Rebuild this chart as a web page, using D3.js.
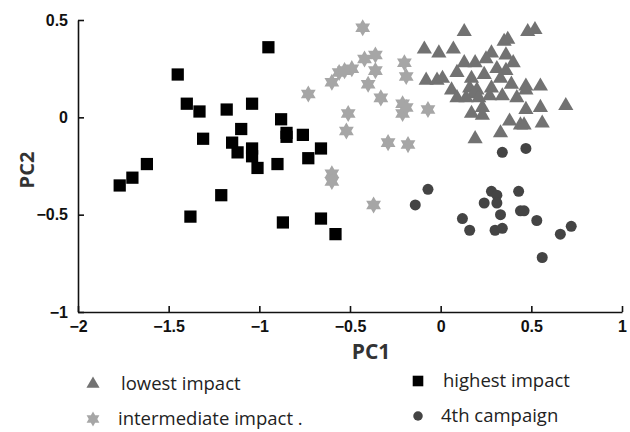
<!DOCTYPE html>
<html>
<head>
<meta charset="utf-8">
<script src="https://cdn.jsdelivr.net/npm/d3@7"></script>
<style>
  body { margin: 0; background: #fff; }
  svg { display: block; }
</style>
</head>
<body>
<div id="chart"></div>
<script>
// PCA scores
const lowestImpact = [
  [0.13, 0.44], [-0.09, 0.35], [-0.01, 0.33], [0.07, 0.35], [0.48, 0.44], [0.52, 0.45],
  [0.35, 0.39], [0.37, 0.40], [0.28, 0.33], [0.25, 0.30], [0.36, 0.32], [0.40, 0.28],
  [0.13, 0.28], [0.19, 0.28], [0.09, 0.23], [0.31, 0.25], [0.36, 0.24], [0.24, 0.22],
  [-0.08, 0.19], [-0.02, 0.19], [0.01, 0.20], [0.17, 0.20], [0.33, 0.20], [0.39, 0.17],
  [0.47, 0.16], [0.55, 0.16], [0.16, 0.15], [0.20, 0.14], [0.18, 0.12], [0.06, 0.14],
  [0.09, 0.10], [0.28, 0.15], [0.27, 0.11], [0.34, 0.11], [0.47, 0.14], [0.42, 0.10],
  [0.21, 0.10], [0.14, 0.10], [0.23, 0.05], [0.17, 0.02], [0.23, 0.01], [0.47, 0.04],
  [0.55, 0.05], [0.69, 0.06], [0.38, -0.02], [0.44, -0.04], [0.46, -0.04], [0.56, -0.03],
  [0.33, -0.08], [0.19, -0.11]
];
const intermediateImpact = [
  [-0.43, 0.46], [-0.42, 0.30], [-0.36, 0.32], [-0.49, 0.25], [-0.56, 0.23], [-0.60, 0.18],
  [-0.36, 0.24], [-0.40, 0.17], [-0.20, 0.28], [-0.19, 0.21], [-0.73, 0.12], [-0.33, 0.10],
  [-0.21, 0.07], [-0.21, 0.02], [-0.19, 0.05], [-0.07, 0.04], [-0.51, 0.02], [-0.52, -0.07],
  [-0.29, -0.13], [-0.18, -0.14], [-0.60, -0.29], [-0.60, -0.33], [-0.37, -0.45], [-0.53, 0.24]
];
const highestImpact = [
  [-1.77, -0.35], [-1.70, -0.31], [-1.62, -0.24], [-1.45, 0.22], [-1.40, 0.07], [-1.33, 0.03],
  [-1.31, -0.11], [-1.38, -0.51], [-0.95, 0.36], [-1.18, 0.04], [-1.04, 0.07], [-1.10, -0.06],
  [-1.15, -0.13], [-1.12, -0.18], [-1.04, -0.16], [-1.04, -0.20], [-1.01, -0.26], [-0.88, -0.01],
  [-0.85, -0.08], [-0.85, -0.10], [-0.76, -0.09], [-0.66, -0.16], [-0.73, -0.21], [-0.90, -0.24],
  [-1.21, -0.40], [-0.87, -0.54], [-0.66, -0.52], [-0.58, -0.60]
];
const fourthCampaign = [
  [0.34, -0.18], [0.47, -0.16], [-0.07, -0.37], [-0.14, -0.45], [0.28, -0.38], [0.31, -0.40],
  [0.24, -0.44], [0.31, -0.44], [0.33, -0.50], [0.43, -0.38], [0.44, -0.48], [0.46, -0.48],
  [0.12, -0.52], [0.16, -0.58], [0.30, -0.58], [0.34, -0.57], [0.53, -0.53], [0.66, -0.60],
  [0.72, -0.56], [0.56, -0.72]
];
const xTicks = [-2, -1.5, -1, -0.5, 0, 0.5, 1];
const yTicks = [-1, -0.5, 0, 0.5];
const legendLabels = ['lowest impact', 'highest impact', 'intermediate impact .', '4th campaign'];

const width = 630, height = 432;
const margin = { left: 78, right: 8, top: 20, bottom: 120 };

const svg = d3.select('#chart').append('svg')
  .attr('width', width)
  .attr('height', height);

const x = d3.scaleLinear().domain([-2, 1]).range([margin.left, width - margin.right]);
const y = d3.scaleLinear().domain([-1, 0.5]).range([height - margin.bottom, margin.top]);

// six-pointed star (two overlapping triangles)
const hexagram = {
  draw(ctx, size) {
    const r = Math.sqrt(size / 1.3);
    const ri = r / Math.sqrt(3);
    for (let i = 0; i < 12; i++) {
      const a = -Math.PI / 2 + i * Math.PI / 6;
      const rr = i % 2 === 0 ? r : ri;
      const px = rr * Math.cos(a), py = rr * Math.sin(a);
      if (i === 0) ctx.moveTo(px, py); else ctx.lineTo(px, py);
    }
    ctx.closePath();
  }
};

const series = [
  { data: lowestImpact, type: d3.symbolTriangle, size: 100, fill: '#727272' },
  { data: intermediateImpact, type: hexagram, size: 95, fill: '#a6a6a6' },
  { data: highestImpact, type: d3.symbolSquare, size: 150, fill: '#000000' },
  { data: fourthCampaign, type: d3.symbolCircle, size: 95, fill: '#444444' }
];

// axes
const xAxis = svg.append('g')
  .attr('transform', `translate(0,${y(-1)})`)
  .call(d3.axisBottom(x).tickValues(xTicks).tickSizeInner(-6).tickSizeOuter(0).tickFormat(d3.format('')));
const yAxis = svg.append('g')
  .attr('transform', `translate(${x(-2)},0)`)
  .call(d3.axisLeft(y).tickValues(yTicks).tickSizeInner(-6).tickSizeOuter(0).tickFormat(d3.format('')));

[xAxis, yAxis].forEach(g => {
  g.select('.domain').attr('stroke', '#111').attr('stroke-width', 1.6);
  g.selectAll('.tick line').attr('stroke', '#111').attr('stroke-width', 1.6);
  g.selectAll('.tick text')
    .attr('fill', '#111')
    .style('font-family', 'Liberation Sans, Arial, sans-serif')
    .style('font-size', '16px')
    .style('font-weight', 'bold');
});
xAxis.selectAll('.tick text').attr('y', 9).attr('dy', '0.71em');
yAxis.selectAll('.tick text').attr('x', -10);

// axis titles
svg.append('text')
  .attr('x', x(-0.5) + 21).attr('y', 359)
  .attr('text-anchor', 'middle')
  .style('font-family', 'Open Sans, sans-serif')
  .style('font-size', '21px')
  .style('font-weight', 'bold')
  .attr('fill', '#333')
  .text('PC1');
svg.append('text')
  .attr('transform', `translate(34,${y(-0.25) + 4}) rotate(-90)`)
  .attr('text-anchor', 'middle')
  .style('font-family', 'Open Sans, sans-serif')
  .style('font-size', '20px')
  .style('font-weight', 'bold')
  .attr('fill', '#333')
  .text('PC2');

// points
series.forEach(s => {
  svg.append('g')
    .selectAll('path')
    .data(s.data)
    .enter().append('path')
    .attr('transform', d => `translate(${x(d[0])},${y(d[1])})`)
    .attr('d', d3.symbol().type(s.type).size(s.size))
    .attr('fill', s.fill);
});

// legend
const legendOrder = [series[0], series[2], series[1], series[3]];
const legendPos = [[93, 384, 121], [418, 381, 443], [93, 419, 118], [418, 416, 441]];
const legend = svg.append('g');
legendOrder.forEach((s, i) => {
  const [mx, my, tx] = legendPos[i];
  legend.append('path')
    .attr('transform', `translate(${mx},${my})`)
    .attr('d', d3.symbol().type(s.type).size(s.size * 0.75))
    .attr('fill', s.fill);
  legend.append('text')
    .attr('x', tx).attr('y', my)
    .attr('dy', '0.35em')
    .style('font-family', 'Open Sans, sans-serif')
    .style('font-size', '18.5px')
    .attr('fill', '#222')
    .text(legendLabels[i]);
});
</script>
</body>
</html>
